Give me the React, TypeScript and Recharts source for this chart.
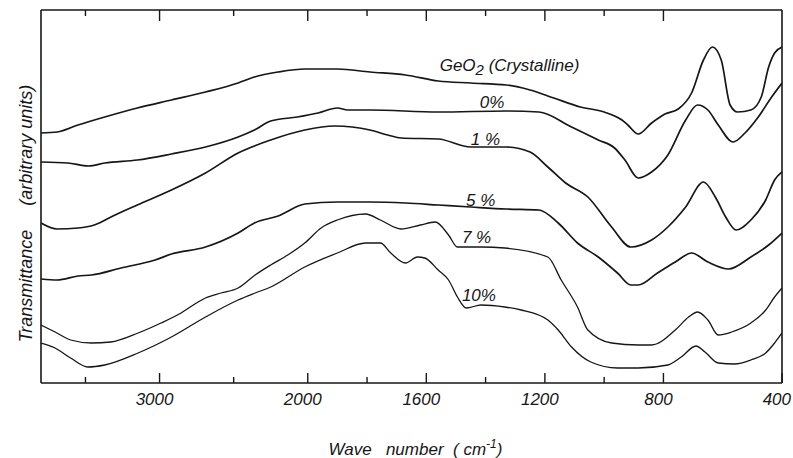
import { LineChart, Line, XAxis, YAxis, ReferenceDot, Label } from "recharts";

// wave numbers (cm-1) -> transmittance, arbitrary units
const geo2Crystal: [number, number][] = [
  [3800, 250], [3690, 251], [3550, 258], [3370, 266], [3150, 275], [2920, 283], [2690, 291],
  [2470, 300], [2360, 306], [2200, 311], [2020, 314], [1900, 314], [1790, 311], [1670, 308],
  [1560, 302], [1450, 300], [1330, 298], [1250, 293], [1170, 285], [1080, 276], [1000, 271],
  [940, 263], [920, 258], [885, 249], [840, 260], [795, 269], [750, 274], [705, 290], [665, 323],
  [635, 336], [605, 323], [575, 278], [550, 271], [505, 273], [470, 286], [445, 316], [425, 330],
  [400, 336],
];
const zeroPct: [number, number][] = [
  [3800, 221], [3620, 220], [3480, 217], [3370, 220], [3150, 223], [2920, 229], [2690, 236],
  [2470, 246], [2360, 253], [2250, 262], [2070, 266], [1965, 270], [1900, 275], [1865, 273],
  [1790, 273], [1560, 271], [1330, 272], [1220, 271], [1110, 256], [1020, 243], [965, 235],
  [930, 223], [885, 205], [840, 211], [785, 228], [725, 263], [685, 278], [650, 273], [615, 258],
  [565, 241], [525, 250], [480, 266], [435, 286], [400, 300],
];
const onePct: [number, number][] = [
  [3800, 160], [3690, 154], [3550, 155], [3440, 158], [3300, 168], [3150, 178], [2920, 193],
  [2690, 210], [2470, 230], [2250, 243], [2020, 253], [1910, 257], [1790, 253], [1730, 248],
  [1685, 245], [1560, 244], [1450, 236], [1330, 236], [1250, 231], [1190, 216], [1130, 200],
  [1055, 186], [975, 156], [910, 136], [840, 143], [785, 156], [725, 176], [665, 201], [625, 186],
  [590, 166], [555, 153], [505, 163], [455, 183], [425, 203], [400, 211],
];
const fivePct: [number, number][] = [
  [3800, 104], [3690, 103], [3550, 107], [3460, 108], [3260, 115], [3030, 123], [2920, 129],
  [2690, 136], [2470, 150], [2360, 160], [2200, 167], [2020, 179], [1900, 181], [1790, 181],
  [1670, 180], [1560, 178], [1450, 176], [1330, 174], [1220, 173], [1155, 160], [1090, 140],
  [1020, 126], [955, 110], [910, 98], [885, 98], [820, 110], [760, 121], [705, 130], [650, 121],
  [580, 114], [505, 126], [445, 138], [400, 150],
];
const sevenPct: [number, number][] = [
  [3800, 58], [3705, 51], [3600, 43], [3460, 40], [3330, 41], [3145, 50], [2990, 60], [2855, 70],
  [2740, 81], [2690, 85], [2585, 90], [2470, 95], [2355, 108], [2250, 118], [2135, 128],
  [2020, 140], [1955, 155], [1900, 163], [1805, 169], [1755, 163], [1685, 154], [1620, 158],
  [1570, 161], [1525, 148], [1495, 136], [1415, 136], [1335, 135], [1190, 126], [1145, 103],
  [1090, 76], [1055, 53], [975, 40], [885, 38], [840, 38], [760, 53], [715, 66], [685, 71],
  [650, 63], [615, 48], [570, 51], [505, 60], [455, 73], [425, 86], [400, 95],
];
const tenPct: [number, number][] = [
  [3800, 40], [3705, 35], [3600, 25], [3485, 16], [3370, 18], [3145, 30], [2920, 46], [2690, 66],
  [2470, 83], [2355, 90], [2250, 96], [2020, 116], [1900, 130], [1805, 140], [1755, 140],
  [1720, 130], [1670, 120], [1630, 126], [1605, 125], [1560, 113], [1525, 103], [1495, 86],
  [1465, 75], [1415, 78], [1335, 76], [1280, 73], [1190, 63], [1155, 53], [1110, 36], [1045, 21],
  [955, 15], [885, 15], [785, 18], [740, 26], [690, 37], [660, 31], [615, 20], [560, 19],
  [505, 23], [455, 30], [425, 40], [400, 50],
];

const majorWaves = [3000, 2000, 1600, 1200, 800, 400];
const minorWaves = [3500, 2500, 1800, 1400, 1000];

// curve names and where their text sits (wave number, transmittance)
const curveNames = ["GeO2 (Crystalline)", "0%", "1 %", "5 %", "7 %", "10%"];
const nameAnchors: [number, number][] = [
  [1555, 312], [1420, 275], [1450, 238], [1466, 177], [1480, 140], [1480, 82],
];

// IR chart scale: 4000-2000 at half the spacing of 2000-400
const toU = (w: number) => (w >= 2000 ? (4000 - w) / 2 : 3000 - w);
const fromU = (u: number) => (u <= 1000 ? 4000 - 2 * u : 3000 - u);

const FONT = "'Liberation Sans', Arial, sans-serif";
const INK = "#161616";

const series = [geo2Crystal, zeroPct, onePct, fivePct, sevenPct, tenPct].map((s) =>
  s.map(([w, t]) => ({ u: toU(w), t }))
);
const allTicks = [...majorWaves, ...minorWaves].map(toU).sort((a, b) => a - b);

function BottomTick({ x, y, payload }: any) {
  const w = Math.round(fromU(payload.value));
  const major = majorWaves.includes(w);
  const last = w === 400;
  return (
    <g>
      <line x1={x} y1={y} x2={x} y2={y - (major ? 10 : 6)} stroke={INK} strokeWidth={1.4} />
      {major && (
        <text
          x={last ? x + 9 : x - 5}
          y={y + 22}
          textAnchor={last ? "end" : "middle"}
          fontFamily={FONT}
          fontStyle="italic"
          fontSize={17}
          fill={INK}
        >
          {w}
        </text>
      )}
    </g>
  );
}

function TopTick({ x, y, payload }: any) {
  const w = Math.round(fromU(payload.value));
  const major = majorWaves.includes(w);
  if (w === 400) return <g />;
  return <line x1={x} y1={y} x2={x} y2={y + (major ? 11 : 6)} stroke={INK} strokeWidth={1.4} />;
}

function XTitle({ viewBox }: any) {
  const cx = viewBox.x + viewBox.width / 2 + 4;
  return (
    <text x={cx} y={viewBox.y + 72} textAnchor="middle" fontFamily={FONT} fontStyle="italic" fontSize={17} fill={INK} style={{ whiteSpace: "pre" }}>
      {"Wave   number  ( cm"}
      <tspan dy={-7} fontSize={12}>-1</tspan>
      <tspan dy={7}>)</tspan>
    </text>
  );
}

function YTitle({ viewBox }: any) {
  const x = viewBox.x + 32;
  const y = viewBox.y + viewBox.height / 2 + 17;
  return (
    <text x={x} y={y} transform={`rotate(-90, ${x}, ${y})`} textAnchor="middle" fontFamily={FONT} fontStyle="italic" fontSize={18} fill={INK}>
      Transmittance
      <tspan dx={24}>(arbitrary units)</tspan>
    </text>
  );
}

function CurveName({ cx, cy, name }: any) {
  const style = { fontFamily: FONT, fontStyle: "italic", fontSize: 17, fill: INK } as const;
  if (name.startsWith("GeO2")) {
    return (
      <text x={cx} y={cy} {...style}>
        GeO
        <tspan dy={4} fontSize={15}>2</tspan>
        <tspan dy={-4}>{name.slice(4)}</tspan>
      </text>
    );
  }
  return (
    <text x={cx} y={cy} {...style}>
      {name}
    </text>
  );
}

export default function App() {
  return (
    <div style={{ position: "absolute", left: 0, top: 0, width: 793, height: 458, background: "#fff" }}>
      <LineChart width={793} height={458} margin={{ top: 0, right: 0, bottom: 0, left: 0 }}>
        <XAxis
          dataKey="u"
          type="number"
          domain={[100, 2600]}
          allowDataOverflow
          ticks={allTicks}
          interval={0}
          tickSize={0}
          tickMargin={0}
          tick={<BottomTick />}
          height={75}
          axisLine={{ stroke: INK, strokeWidth: 1.6 }}
        >
          <Label content={<XTitle />} />
        </XAxis>
        <XAxis
          xAxisId="top"
          orientation="top"
          dataKey="u"
          type="number"
          domain={[100, 2600]}
          allowDataOverflow
          ticks={allTicks}
          interval={0}
          tickSize={0}
          tickMargin={0}
          tick={<TopTick />}
          height={10}
          axisLine={{ stroke: INK, strokeWidth: 1.4 }}
        />
        <YAxis
          type="number"
          domain={[0, 373]}
          allowDataOverflow
          width={41}
          tick={false}
          tickLine={false}
          axisLine={{ stroke: INK, strokeWidth: 1.6 }}
        >
          <Label content={<YTitle />} />
        </YAxis>
        <YAxis
          yAxisId="right"
          orientation="right"
          type="number"
          domain={[0, 373]}
          width={11}
          tick={false}
          tickLine={false}
          axisLine={{ stroke: INK, strokeWidth: 1.6 }}
        />
        {series.map((data, i) => (
          <Line
            key={curveNames[i]}
            data={data}
            dataKey="t"
            type="monotone"
            stroke={INK}
            strokeWidth={i < 4 ? 1.7 : 1.3}
            dot={false}
            activeDot={false}
            isAnimationActive={false}
          />
        ))}
        {curveNames.map((name, i) => (
          <ReferenceDot
            key={name}
            x={toU(nameAnchors[i][0])}
            y={nameAnchors[i][1]}
            r={0}
            ifOverflow="visible"
            shape={(p: any) => <CurveName cx={p.cx} cy={p.cy} name={name} />}
          />
        ))}
      </LineChart>
    </div>
  );
}
